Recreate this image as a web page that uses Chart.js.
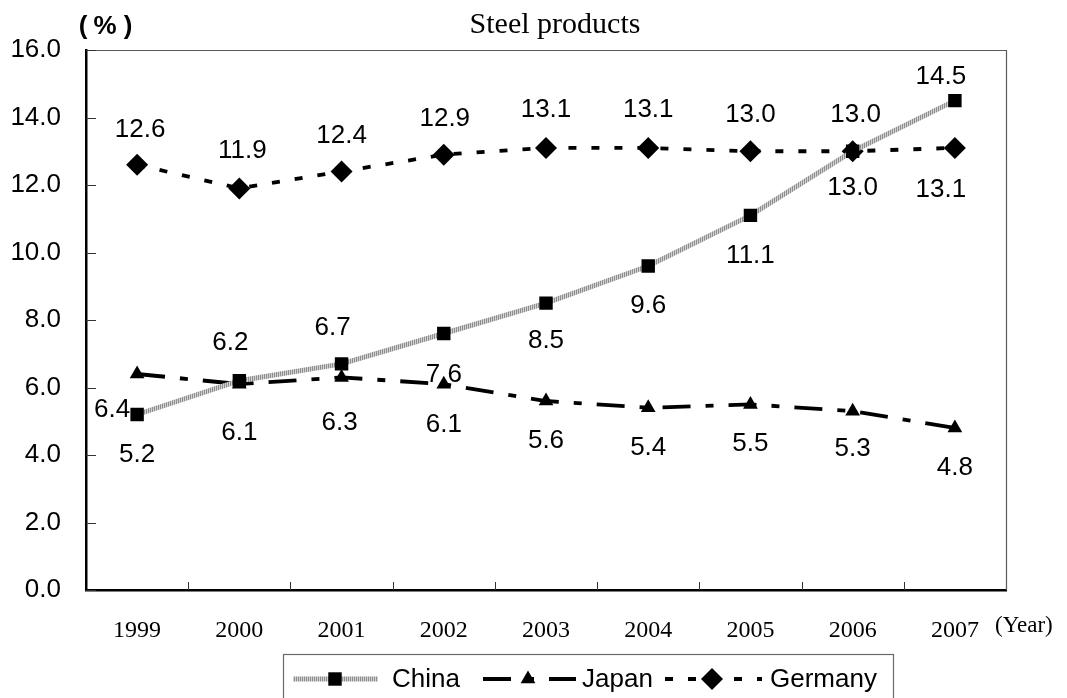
<!DOCTYPE html>
<html>
<head>
<meta charset="utf-8">
<script src="https://cdn.jsdelivr.net/npm/chart.js@4/dist/chart.umd.min.js"></script>
<style>
  html, body { margin: 0; padding: 0; background: #fff; }
  #wrap { position: relative; width: 1067px; height: 698px; }
</style>
</head>
<body>
<div id="wrap"><canvas id="chart" width="1067" height="698"></canvas></div>
<script>
// Share of world steel-product exports by year (%)
const years = ['1999', '2000', '2001', '2002', '2003', '2004', '2005', '2006', '2007'];
const china = [5.2, 6.2, 6.7, 7.6, 8.5, 9.6, 11.1, 13.0, 14.5];
const japan = [6.4, 6.1, 6.3, 6.1, 5.6, 5.4, 5.5, 5.3, 4.8];
const germany = [12.6, 11.9, 12.4, 12.9, 13.1, 13.1, 13.0, 13.0, 13.1];
const yTicks = [0, 2, 4, 6, 8, 10, 12, 14, 16];

// Value-label placement relative to each point, [dx, dy] in px
const chinaLabelPos = [[0, 40], [-9, -38], [-9, -36], [0, 41], [0, 38], [0, 40], [0, 40], [0, 37], [-14, -24]];
const japanLabelPos = [[-25, 36], [0, 49], [-2, 45], [0, 41], [0, 40], [0, 40], [0, 39], [0, 38], [0, 40]];
const germanyLabelPos = [[3, -35], [3, -38], [0, -36], [1, -36], [0, -38], [0, -38], [0, -36], [3, -36], [-14, 42]];

const SANS = '"Liberation Sans", Arial, sans-serif';
const SERIF = '"Liberation Serif", "Times New Roman", serif';

// fine vertical hatching used for the China line
function hatchPattern() {
  const c = document.createElement('canvas');
  c.width = 2; c.height = 1;
  const g = c.getContext('2d');
  g.fillStyle = '#8e8e8e'; g.fillRect(0, 0, 1, 1);
  g.fillStyle = '#d2d2d2'; g.fillRect(1, 0, 1, 1);
  return g.createPattern(c, 'repeat');
}
const chinaStroke = hatchPattern();

const chartTexts = {
  id: 'chartTexts',
  afterDraw(chart) {
    const { ctx, chartArea: a, scales } = chart;
    ctx.save();

    // frame: thin top/right edges
    ctx.strokeStyle = '#5a5a5a';
    ctx.lineWidth = 1.2;
    ctx.beginPath();
    ctx.moveTo(a.left, a.top + 0.5);
    ctx.lineTo(a.right + 0.5, a.top + 0.5);
    ctx.lineTo(a.right + 0.5, a.bottom);
    ctx.stroke();

    // inward tick marks
    ctx.strokeStyle = '#333';
    ctx.lineWidth = 1;
    ctx.beginPath();
    yTicks.forEach(v => {
      const y = Math.round(scales.y.getPixelForValue(v)) + 0.5;
      ctx.moveTo(a.left, y);
      ctx.lineTo(a.left + 10, y);
    });
    for (let i = 1; i < years.length; i++) {
      const x = Math.round((scales.x.getPixelForValue(i - 1) + scales.x.getPixelForValue(i)) / 2) + 0.5;
      ctx.moveTo(x, a.bottom);
      ctx.lineTo(x, a.bottom - 8);
    }
    ctx.stroke();

    // title and axis captions
    ctx.fillStyle = '#000';
    ctx.textBaseline = 'middle';
    ctx.textAlign = 'center';
    ctx.font = '30px ' + SERIF;
    ctx.fillText('Steel products', 555, 25);
    ctx.font = 'bold 26px ' + SANS;
    ctx.fillText('(', 83, 27);
    ctx.fillText('%', 105, 27);
    ctx.fillText(')', 128, 27);
    ctx.textAlign = 'left';
    ctx.font = '23px ' + SERIF;
    ctx.fillText('(Year)', 995, 626);

    // value labels
    ctx.font = '26px ' + SANS;
    ctx.textAlign = 'center';
    const offsets = [chinaLabelPos, japanLabelPos, germanyLabelPos];
    chart.data.datasets.forEach((ds, di) => {
      const meta = chart.getDatasetMeta(di);
      meta.data.forEach((pt, i) => {
        const [dx, dy] = offsets[di][i];
        ctx.fillText(ds.data[i].toFixed(1), pt.x + dx, pt.y + dy);
      });
    });

    // legend
    const ly = 679;
    ctx.strokeStyle = '#6a6a6a';
    ctx.lineWidth = 1.2;
    ctx.strokeRect(283.5, 654.5, 610, 70);
    const entries = [
      { ds: 0, x0: 293, x1: 378, mx: 335, tx: 392 },
      { ds: 1, x0: 483, x1: 576, mx: 528, tx: 582 },
      { ds: 2, x0: 665, x1: 762, mx: 712, tx: 770 }
    ];
    entries.forEach(e => {
      const ds = chart.data.datasets[e.ds];
      ctx.save();
      ctx.strokeStyle = ds.borderColor;
      ctx.lineWidth = ds.borderWidth;
      ctx.setLineDash(ds.borderDash || []);
      ctx.beginPath();
      ctx.moveTo(e.x0, ly);
      ctx.lineTo(e.x1, ly);
      ctx.stroke();
      ctx.restore();
      ctx.fillStyle = '#000';
      Chart.helpers.drawPoint(ctx, { pointStyle: ds.pointStyle, radius: ds.pointRadius, rotation: 0, borderWidth: 0 }, e.mx, ly);
      ctx.fillStyle = '#000';
      ctx.textAlign = 'left';
      ctx.font = '26px ' + SANS;
      ctx.fillText(ds.label, e.tx, ly + 1);
    });

    ctx.restore();
  }
};

new Chart(document.getElementById('chart'), {
  type: 'line',
  data: {
    labels: years,
    datasets: [
      {
        label: 'China', data: china,
        borderColor: chinaStroke, borderWidth: 5,
        pointStyle: 'rect', pointRadius: 9.5, pointHoverRadius: 9.5,
        pointBackgroundColor: '#000', pointBorderWidth: 0
      },
      {
        label: 'Japan', data: japan,
        borderColor: '#000', borderWidth: 3.8, borderDash: [28, 15, 8, 15],
        pointStyle: 'triangle', pointRadius: 8.5, pointHoverRadius: 8.5,
        pointBackgroundColor: '#000', pointBorderWidth: 0
      },
      {
        label: 'Germany', data: germany,
        borderColor: '#000', borderWidth: 3.8, borderDash: [8, 15],
        pointStyle: 'rectRot', pointRadius: 11, pointHoverRadius: 11,
        pointBackgroundColor: '#000', pointBorderWidth: 0
      }
    ]
  },
  options: {
    responsive: false,
    animation: false,
    devicePixelRatio: 1,
    layout: { padding: { top: 50, right: 61, left: 0, bottom: 0 } },
    plugins: {
      legend: { display: false },
      title: { display: false },
      tooltip: { enabled: false }
    },
    scales: {
      x: {
        type: 'category',
        offset: true,
        grid: { display: false, drawTicks: false },
        border: { display: true, color: '#000', width: 2.5 },
        ticks: { color: '#000', font: { family: SERIF, size: 24 }, padding: 26, maxRotation: 0, autoSkip: false },
        afterFit(s) { s.height = 108; }
      },
      y: {
        min: 0, max: 16,
        afterBuildTicks(s) { s.ticks = yTicks.map(v => ({ value: v })); },
        grid: { display: false, drawTicks: false },
        border: { display: true, color: '#000', width: 2.5 },
        ticks: { color: '#000', font: { family: SANS, size: 26 }, padding: 25, callback: v => Number(v).toFixed(1) },
        afterFit(s) { s.width = 86; }
      }
    }
  },
  plugins: [chartTexts]
});
</script>
</body>
</html>
